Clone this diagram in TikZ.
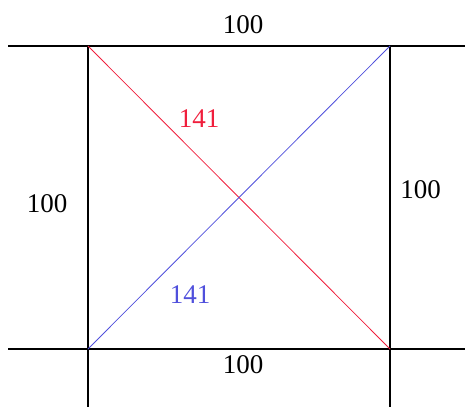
\documentclass[tikz,border=0pt]{standalone}
\usepackage{fontspec}
\setmainfont{Liberation Serif}
\usetikzlibrary{positioning}

\definecolor{diagred}{RGB}{240,30,60}
\definecolor{diagblue}{RGB}{80,80,220}

\begin{document}
\begin{tikzpicture}[
    x=1pt, y=-1pt,
    edge/.style={draw=black, line width=1.3pt},
    diag/.style={line width=0.8pt},
    lbl/.style={font=\fontsize{27}{30}\selectfont, inner sep=0pt}
]
\useasboundingbox (0,0) rectangle (465,407);

% Corners and free ends
\coordinate (tl) at (88,46);
\coordinate (tr) at (390,46);
\coordinate (bl) at (88,349);
\coordinate (br) at (390,349);
\coordinate (topW) at (8,46);
\coordinate (topE) at (465,46);
\coordinate (botW) at (8,349);
\coordinate (botE) at (465,349);
\coordinate (leftS) at (88,407);
\coordinate (rightS) at (390,407);

% Sides
\draw[edge] (topW) -- (topE);
\draw[edge] (botW) -- (botE);
\draw[edge] (tl) -- (leftS);
\draw[edge] (tr) -- (rightS);

% Diagonals
\draw[diag, diagred] (tl) -- (br);
\draw[diag, diagblue] (bl) -- (tr);

% Labels
\node[lbl] (topLbl) at (243,24.5) {100};
\node[lbl] (leftLbl) at (47,204) {100};
\node[lbl] (rightLbl) at (420.5,190) {100};
\node[lbl] (botLbl) at (243,365) {100};
\node[lbl, text=diagred] (redLbl) at (199,119) {141};
\node[lbl, text=diagblue] (blueLbl) at (190,295) {141};

\end{tikzpicture}
\end{document}
